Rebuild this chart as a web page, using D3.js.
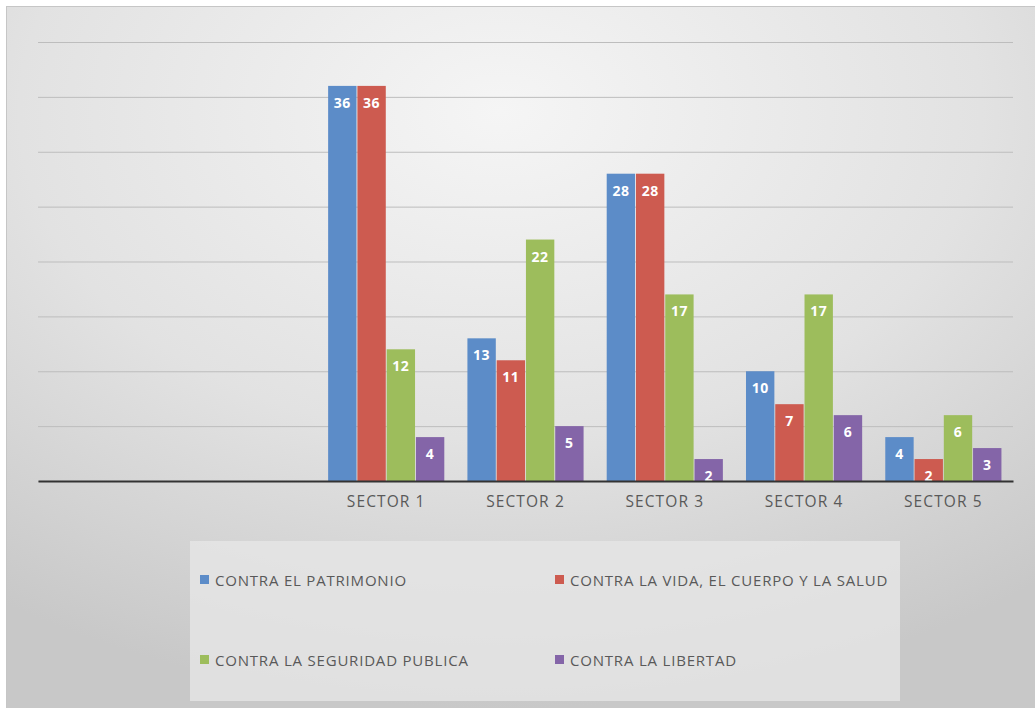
<!DOCTYPE html>
<html>
<head>
<meta charset="utf-8">
<script src="https://cdn.jsdelivr.net/npm/d3@7"></script>
<style>
  html, body { margin: 0; padding: 0; background: #fff; }
  svg { display: block; }
</style>
</head>
<body>
<div id="chart"></div>
<script>
// categories (two empty slots on the left, as in the original sheet)
const categories = ['', '', 'SECTOR 1', 'SECTOR 2', 'SECTOR 3', 'SECTOR 4', 'SECTOR 5'];
const seriesNames = [
  'CONTRA EL PATRIMONIO',
  'CONTRA LA VIDA, EL CUERPO Y LA SALUD',
  'CONTRA LA SEGURIDAD PUBLICA',
  'CONTRA LA LIBERTAD'
];
const patrimonio = [null, null, 36, 13, 28, 10, 4];
const vida       = [null, null, 36, 11, 28, 7, 2];
const seguridad  = [null, null, 12, 22, 17, 17, 6];
const libertad   = [null, null, 4, 5, 2, 6, 3];
const yTicks = [0, 5, 10, 15, 20, 25, 30, 35, 40];

const colors = ['#5c8cc8', '#cd5b50', '#9dbd5c', '#8465a8'];
const seriesValues = [patrimonio, vida, seguridad, libertad];

const W = 1035, H = 708;
const plot = {left: 38, right: 1013, top: 42, bottom: 481};

const svg = d3.select('#chart').append('svg')
  .attr('width', W).attr('height', H);

const defs = svg.append('defs');
const grad = defs.append('radialGradient')
  .attr('id', 'bg')
  .attr('cx', '48%').attr('cy', '15%').attr('r', '85%');
grad.append('stop').attr('offset', '0%').attr('stop-color', '#f5f5f5');
grad.append('stop').attr('offset', '55%').attr('stop-color', '#e2e2e2');
grad.append('stop').attr('offset', '100%').attr('stop-color', '#c8c8c8');

// chart area background
svg.append('rect')
  .attr('x', 6.5).attr('y', 6.5)
  .attr('width', W - 6).attr('height', H - 6)
  .attr('fill', 'url(#bg)')
  .attr('stroke', '#c6c6c6');

const x = d3.scaleBand()
  .domain(d3.range(categories.length))
  .range([plot.left, plot.right])
  .paddingInner(0).paddingOuter(0);

const gap = x.bandwidth() * 0.083;
const xs = d3.scaleBand()
  .domain(d3.range(seriesNames.length))
  .range([gap, x.bandwidth() - gap])
  .paddingInner(0.03);

const y = d3.scaleLinear()
  .domain([0, 40])
  .range([plot.bottom, plot.top]);

// gridlines
const grid = svg.append('g')
  .attr('transform', `translate(${plot.left},0)`)
  .call(d3.axisLeft(y).tickValues(yTicks).tickSize(-(plot.right - plot.left)).tickFormat(''));
grid.select('.domain').remove();
grid.selectAll('.tick line').attr('stroke', '#bdbdbd').attr('stroke-width', 1);

// bars
const groups = svg.append('g').selectAll('g')
  .data(categories.map((c, i) => ({c, i})))
  .join('g')
  .attr('transform', d => `translate(${x(d.i)},0)`);

const cells = d => seriesValues.map((vals, s) => ({s, v: vals[d.i]})).filter(e => e.v != null);

groups.selectAll('rect')
  .data(cells)
  .join('rect')
  .attr('x', d => xs(d.s))
  .attr('width', xs.bandwidth())
  .attr('y', d => y(d.v))
  .attr('height', d => y(0) - y(d.v))
  .attr('fill', d => colors[d.s]);

groups.selectAll('text')
  .data(cells)
  .join('text')
  .attr('x', d => xs(d.s) + xs.bandwidth() / 2)
  .attr('y', d => y(d.v) + 22)
  .attr('text-anchor', 'middle')
  .attr('fill', '#fff')
  .style('font-family', '"Open Sans", sans-serif')
  .style('font-weight', 'bold')
  .style('font-size', '14px')
  .style('letter-spacing', '0.5px')
  .text(d => d.v);

// x axis
const xAxis = svg.append('g')
  .attr('transform', `translate(0,${plot.bottom})`)
  .call(d3.axisBottom(x).tickSize(0).tickPadding(15).tickFormat(i => categories[i]));
xAxis.select('.domain').attr('stroke', '#333').attr('stroke-width', 2);
xAxis.selectAll('text')
  .attr('fill', '#595959')
  .style('font-family', '"Open Sans", sans-serif')
  .style('font-size', '15.5px')
  .style('letter-spacing', '1.1px');

// legend
const legend = svg.append('g');
legend.append('rect')
  .attr('x', 190).attr('y', 541)
  .attr('width', 710).attr('height', 160)
  .attr('fill', '#e6e6e6').attr('fill-opacity', 0.8);

const legendPos = [[200, 580], [555, 580], [200, 660], [555, 660]];
const items = legend.selectAll('g')
  .data(seriesNames.map((n, i) => ({n, i})))
  .join('g')
  .attr('transform', d => `translate(${legendPos[d.i][0]},${legendPos[d.i][1]})`);
items.append('rect')
  .attr('x', 0).attr('y', -5)
  .attr('width', 9).attr('height', 9)
  .attr('fill', d => colors[d.i]);
items.append('text')
  .attr('x', 15).attr('y', 5.5)
  .attr('fill', '#595959')
  .style('font-family', '"Open Sans", sans-serif')
  .style('font-size', '15px')
  .style('letter-spacing', '0.8px')
  .text(d => d.n);
</script>
</body>
</html>
